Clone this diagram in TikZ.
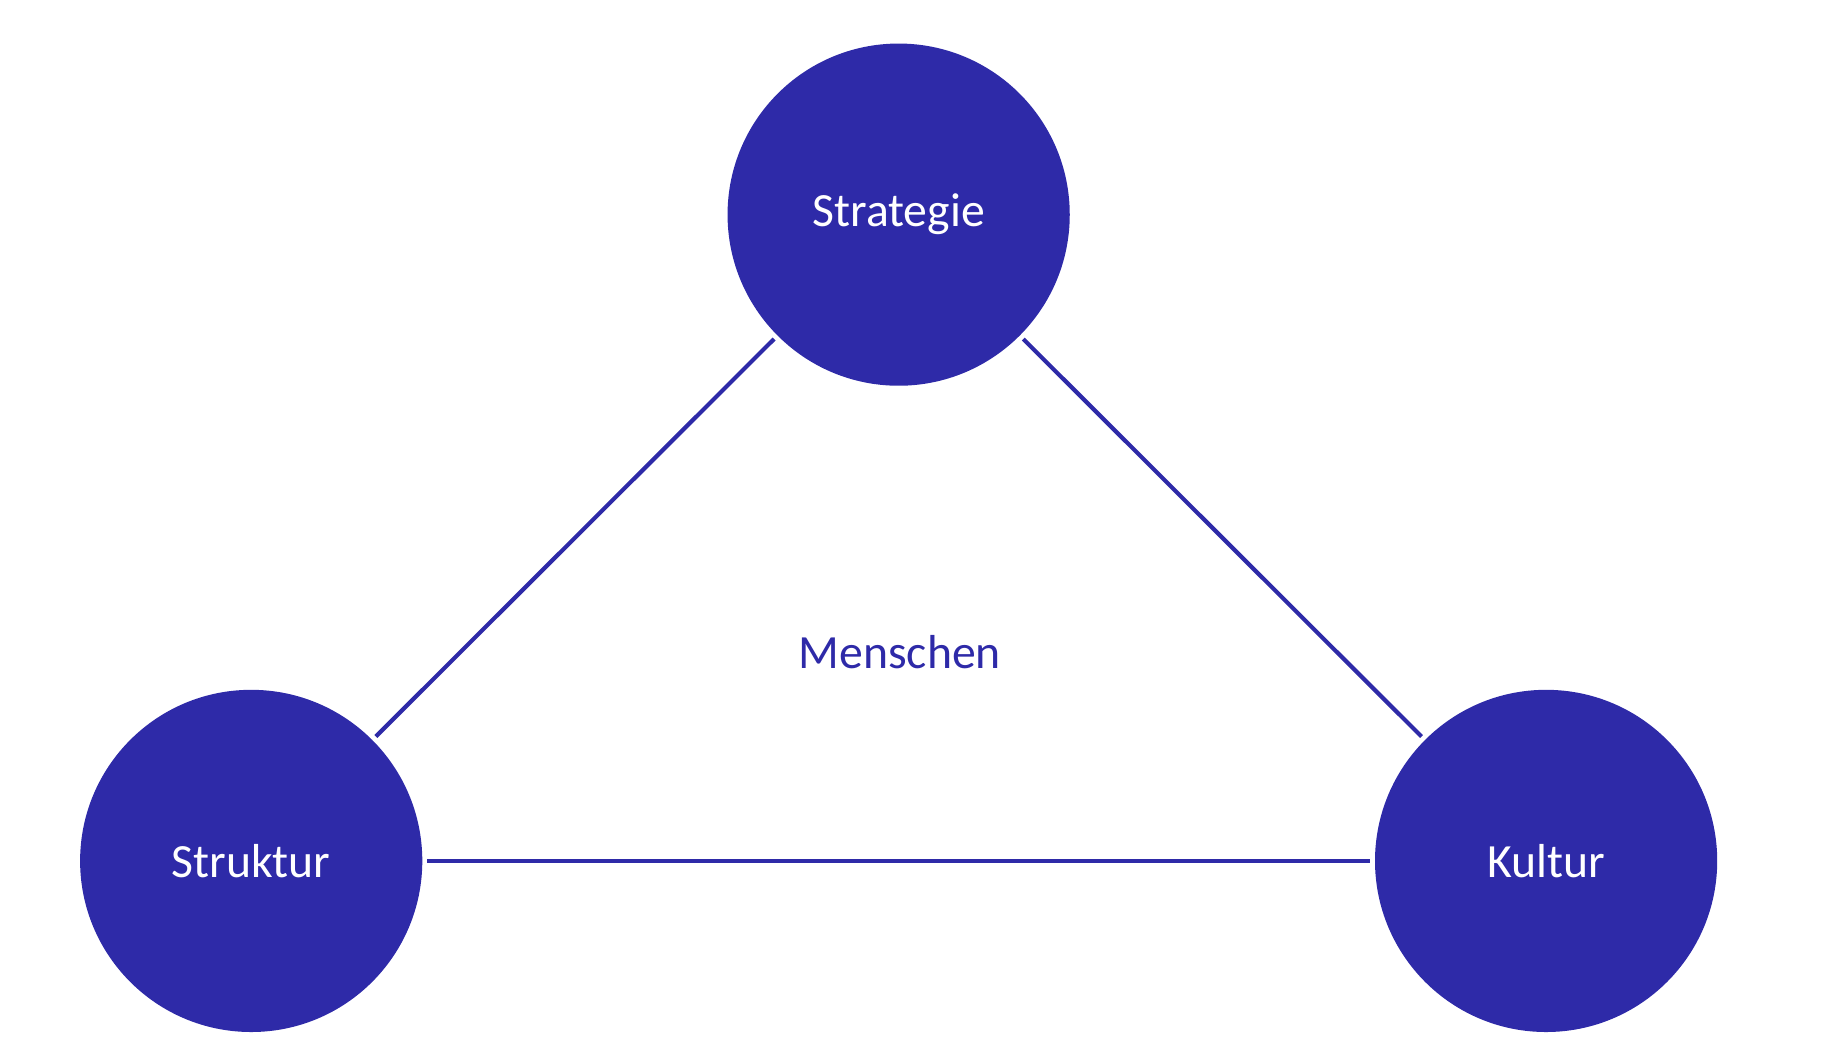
\documentclass[tikz,border=0pt]{standalone}
\usepackage{fontspec}
\setmainfont{Carlito}
\definecolor{violetblue}{HTML}{2E2AA8}
\begin{document}
\begin{tikzpicture}[x=0.01cm,y=-0.01cm,
    pillar/.style={circle, fill=violetblue, minimum size=2.9cm, inner sep=0pt,
      text=white, font=\fontsize{11.5}{14}\selectfont},
    link/.style={draw=violetblue, line width=1pt, shorten <=1pt, shorten >=1pt}]
  \useasboundingbox (0,0) rectangle (1567,897);
  \node[pillar] (Strat) at (762,182) {Strategie};
  \node[pillar] (Strukt) at (213,730) {Struktur};
  \node[pillar] (Kult) at (1311,730) {Kultur};
  \node[text=violetblue, font=\fontsize{11.5}{14}\selectfont] (Mensch) at (763,553) {Menschen};
  \draw[link] (Strat) -- (Strukt);
  \draw[link] (Strat) -- (Kult);
  \draw[link] (Strukt) -- (Kult);
\end{tikzpicture}
\end{document}
